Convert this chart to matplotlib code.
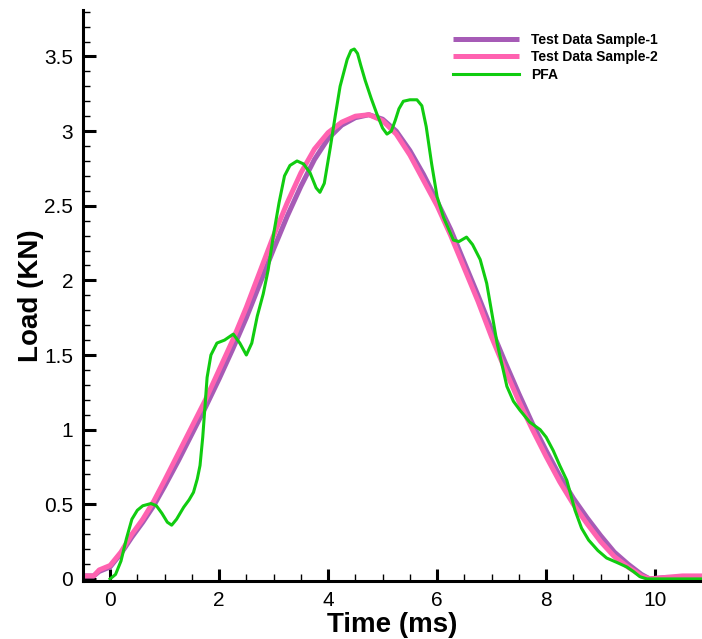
import matplotlib.pyplot as plt
from matplotlib.ticker import MultipleLocator

plt.rcParams['font.family'] = ['Liberation Sans', 'DejaVu Sans']

# Test data sample 1 (purple)
t1 = [-0.5, -0.3, -0.2, 0.0, 0.2, 0.4, 0.6, 0.8, 1.0, 1.25, 1.5, 1.75, 2.0, 2.25, 2.5,
      2.75, 3.0, 3.25, 3.5, 3.75, 4.0, 4.25, 4.5, 4.75, 5.0, 5.25, 5.5, 5.75, 6.0, 6.25,
      6.5, 6.75, 7.0, 7.25, 7.5, 7.75, 8.0, 8.25, 8.5, 8.75, 9.0, 9.25, 9.5, 9.75, 9.9,
      10.2, 10.5, 10.9]
load1 = [0.02, 0.02, 0.05, 0.08, 0.17, 0.28, 0.38, 0.49, 0.62, 0.79, 0.97, 1.15, 1.34,
         1.54, 1.75, 1.98, 2.21, 2.43, 2.63, 2.81, 2.95, 3.04, 3.09, 3.11, 3.08, 3.00,
         2.87, 2.71, 2.53, 2.34, 2.12, 1.90, 1.67, 1.45, 1.24, 1.04, 0.86, 0.69, 0.54,
         0.41, 0.29, 0.18, 0.10, 0.03, 0.0, 0.01, 0.01, 0.01]

# Test data sample 2 (pink)
t2 = t1
load2 = [0.02, 0.02, 0.06, 0.09, 0.18, 0.30, 0.40, 0.52, 0.66, 0.84, 1.02, 1.20, 1.40,
         1.60, 1.82, 2.06, 2.30, 2.52, 2.72, 2.88, 2.99, 3.06, 3.10, 3.11, 3.07, 2.98,
         2.84, 2.67, 2.50, 2.30, 2.08, 1.86, 1.62, 1.40, 1.19, 1.00, 0.82, 0.65, 0.50,
         0.37, 0.25, 0.15, 0.08, 0.02, 0.0, 0.01, 0.02, 0.02]

# PFA (green)
t_pfa = [0.0, 0.1, 0.2, 0.3, 0.4, 0.5, 0.6, 0.75, 0.85, 0.95, 1.05, 1.13, 1.22, 1.35,
         1.45, 1.53, 1.6, 1.65, 1.7, 1.74, 1.78, 1.85, 1.96, 2.1, 2.26, 2.38, 2.5, 2.6,
         2.7, 2.81, 2.9, 3.0, 3.1, 3.2, 3.3, 3.43, 3.55, 3.67, 3.78, 3.85, 3.93, 4.04,
         4.13, 4.22, 4.35, 4.42, 4.48, 4.54, 4.6, 4.68, 4.79, 4.89, 5.0, 5.08, 5.16,
         5.23, 5.3, 5.38, 5.5, 5.63, 5.72, 5.8, 5.9, 6.0, 6.12, 6.3, 6.4, 6.54, 6.65,
         6.79, 6.91, 7.0, 7.1, 7.2, 7.28, 7.4, 7.52, 7.7, 7.89, 8.0, 8.13, 8.25, 8.38,
         8.53, 8.65, 8.78, 8.95, 9.11, 9.3, 9.48, 9.6, 9.72, 9.85, 10.3, 10.9]
load_pfa = [0.0, 0.03, 0.12, 0.27, 0.40, 0.46, 0.49, 0.505, 0.49, 0.44, 0.38, 0.36,
            0.40, 0.48, 0.53, 0.58, 0.67, 0.76, 0.95, 1.15, 1.35, 1.50, 1.58, 1.60,
            1.64, 1.58, 1.50, 1.58, 1.76, 1.91, 2.07, 2.31, 2.52, 2.70, 2.77, 2.80,
            2.78, 2.72, 2.62, 2.59, 2.65, 2.89, 3.10, 3.30, 3.48, 3.54, 3.55, 3.52,
            3.44, 3.34, 3.22, 3.12, 3.02, 2.98, 3.00, 3.07, 3.15, 3.20, 3.21, 3.21,
            3.17, 3.03, 2.78, 2.56, 2.42, 2.27, 2.26, 2.29, 2.24, 2.14, 1.98, 1.79,
            1.58, 1.42, 1.29, 1.19, 1.13, 1.05, 1.00, 0.95, 0.86, 0.76, 0.66, 0.46,
            0.34, 0.26, 0.19, 0.14, 0.11, 0.08, 0.05, 0.015, 0.0, 0.0, 0.0]

labels = ["Test Data Sample-1", "Test Data Sample-2", "PFA"]
colors = ["#a65bb6", "#ff62b0", "#10cc10"]

fig = plt.figure(figsize=(7.02, 6.39), dpi=100)
ax = fig.add_axes([0.118, 0.091, 0.882, 0.893])

ax.plot(t1, load1, color=colors[0], lw=3.6, label=labels[0], solid_capstyle='butt')
ax.plot(t2, load2, color=colors[1], lw=3.6, label=labels[1], solid_capstyle='butt')
ax.plot(t_pfa, load_pfa, color=colors[2], lw=2.2, label=labels[2])

ax.set_xlim(-0.5, 10.86)
ax.set_ylim(-0.013, 3.81)

ax.xaxis.set_major_locator(MultipleLocator(2))
ax.xaxis.set_minor_locator(MultipleLocator(0.5))
ax.yaxis.set_minor_locator(MultipleLocator(0.1))
ax.set_yticks([0, 0.5, 1, 1.5, 2, 2.5, 3, 3.5])
ax.set_yticklabels(["0", "0.5", "1", "1.5", "2", "2.5", "3", "3.5"])

for s in ['top', 'right']:
    ax.spines[s].set_visible(False)
for s in ['left', 'bottom']:
    ax.spines[s].set_linewidth(2.2)

ax.tick_params(which='major', direction='in', length=9, width=2.2, labelsize=15, pad=7)
ax.tick_params(which='minor', direction='in', length=5, width=1.0)

ax.set_xlabel("Time (ms)", fontsize=20, fontweight='bold', labelpad=2)
ax.set_ylabel("Load (KN)", fontsize=20, fontweight='bold', labelpad=0)

ax.legend(loc='upper left', bbox_to_anchor=(0.645, 0.949), bbox_transform=fig.transFigure,
          frameon=False, prop={'weight': 'bold', 'size': 10}, handlelength=4.8,
          handletextpad=0.85, labelspacing=0.25, borderpad=0, borderaxespad=0)

fig.savefig("out.png", dpi=100)
